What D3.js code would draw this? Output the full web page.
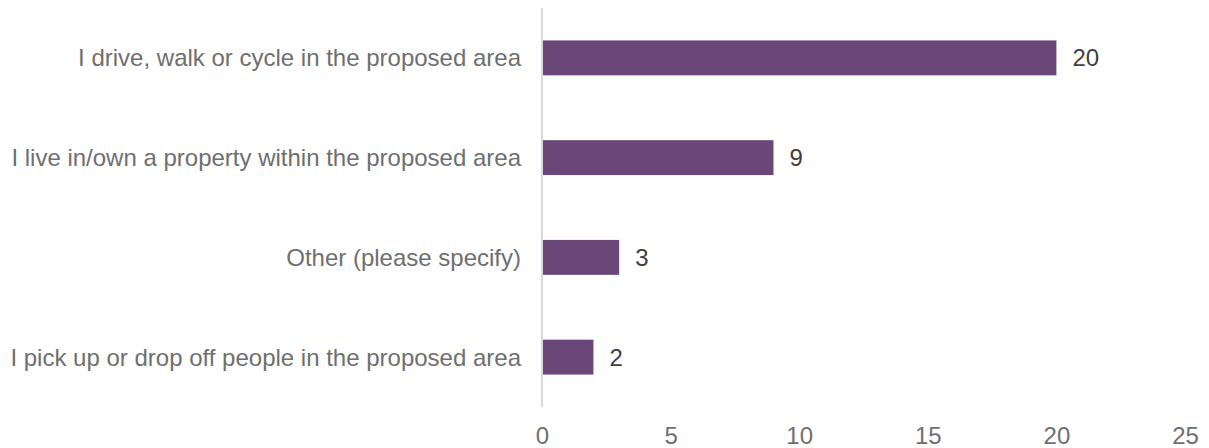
<!DOCTYPE html>
<html><head><meta charset="utf-8">
<script src="https://cdn.jsdelivr.net/npm/d3@7"></script>
<style>body{margin:0;background:#fff}svg{display:block}</style>
</head><body>
<script>
const categories = ["I drive, walk or cycle in the proposed area","I live in/own a property within the proposed area","Other (please specify)","I pick up or drop off people in the proposed area"];
const values = [20, 9, 3, 2];
const tickValues = [0, 5, 10, 15, 20, 25];

const W = 1209, H = 448;
const m = {left: 542, right: 24, top: 8, bottom: 41};
const svg = d3.select("body").append("svg").attr("width", W).attr("height", H);
const x = d3.scaleLinear().domain([0, 25]).range([m.left, W - m.right]);
const y = d3.scaleBand().domain(categories).range([m.top, H - m.bottom]).paddingInner(0.65).paddingOuter(0.325);
const font = "'Liberation Sans', Arial, sans-serif";

svg.selectAll("rect.bar").data(values).join("rect")
  .attr("x", x(0)).attr("y", (d,i) => y(categories[i]))
  .attr("width", d => x(d) - x(0)).attr("height", y.bandwidth())
  .attr("fill", "#6a4679");

svg.append("line").attr("x1", x(0)).attr("x2", x(0)).attr("y1", m.top).attr("y2", H - m.bottom)
  .attr("stroke", "#d9d9d9").attr("stroke-width", 2);

svg.selectAll("text.val").data(values).join("text")
  .attr("x", d => x(d) + 16).attr("y", (d,i) => y(categories[i]) + y.bandwidth()/2)
  .attr("dy", "0.35em").attr("font-family", font).attr("font-size", 24).attr("fill", "#404040")
  .text(d => d);

svg.selectAll("text.cat").data(categories).join("text")
  .attr("x", m.left - 21).attr("y", d => y(d) + y.bandwidth()/2)
  .attr("dy", "0.35em").attr("text-anchor", "end").attr("font-family", font).attr("font-size", 24).attr("fill", "#6f6f6f")
  .text(d => d);

const xAxis = d3.axisBottom(x).tickValues(tickValues).tickSize(0).tickPadding(0);
const g = svg.append("g").attr("transform", `translate(0,${H - m.bottom + 29})`).call(xAxis);
g.select(".domain").remove();
g.selectAll("text").attr("font-family", font).attr("font-size", 24).attr("fill", "#6f6f6f").attr("dy", "0.35em");
</script>
</body></html>
